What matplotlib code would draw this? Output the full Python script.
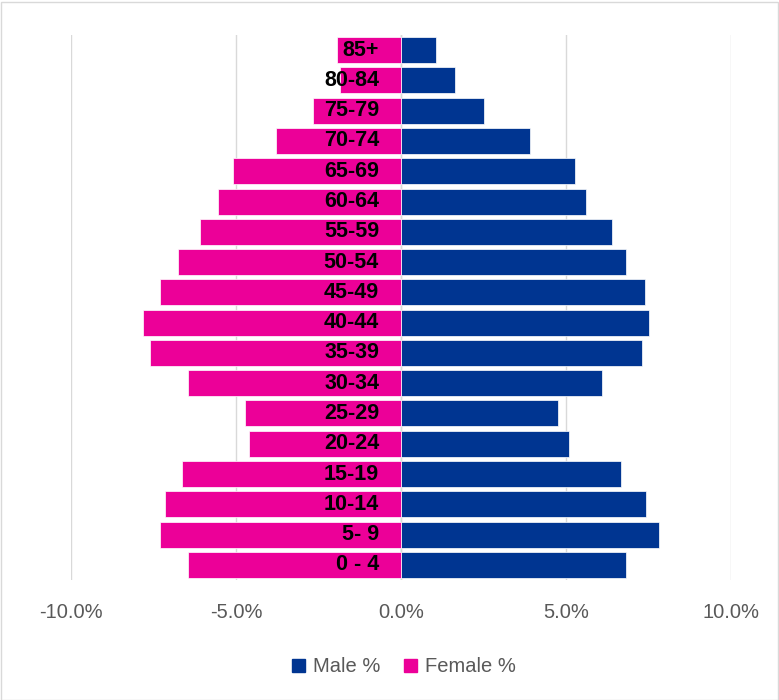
import matplotlib
matplotlib.use("Agg")
import matplotlib.pyplot as plt
from matplotlib.patches import Patch, Rectangle

age_groups = ["0 - 4", "5- 9", "10-14", "15-19", "20-24", "25-29", "30-34", "35-39",
              "40-44", "45-49", "50-54", "55-59", "60-64", "65-69", "70-74", "75-79",
              "80-84", "85+"]
male_pct = [6.82, 7.82, 7.42, 6.67, 5.09, 4.76, 6.09, 7.30, 7.52, 7.39, 6.82, 6.39,
            5.61, 5.27, 3.91, 2.52, 1.64, 1.06]
female_pct = [6.46, 7.30, 7.16, 6.63, 4.61, 4.73, 6.44, 7.61, 7.81, 7.30, 6.76, 6.09,
              5.55, 5.09, 3.79, 2.67, 1.85, 1.94]
x_ticks = [-10, -5, 0, 5, 10]
x_tick_labels = ["-10.0%", "-5.0%", "0.0%", "5.0%", "10.0%"]

male_color = "#003591"
female_color = "#EC0098"

fig = plt.figure(figsize=(7.79, 7.00), dpi=100)
ax = fig.add_axes([71/779, 1 - 580/700, 660/779, 545/700])

y = list(range(len(age_groups)))
ax.barh(y, male_pct, height=0.86, color=male_color, edgecolor="white", linewidth=0.5, zorder=3)
ax.barh(y, [-v for v in female_pct], height=0.86, color=female_color, edgecolor="white", linewidth=0.5, zorder=3)

ax.set_xlim(-10, 10)
ax.set_ylim(-0.5, len(age_groups) - 0.5)
ax.set_xticks(x_ticks)
ax.set_xticklabels(x_tick_labels, fontsize=14.5, color="#595959", fontfamily="Liberation Sans")
ax.tick_params(axis="x", length=0, pad=16.5)
ax.set_yticks([])
for s in ax.spines.values():
    s.set_visible(False)
ax.grid(axis="x", color="#D9D9D9", linewidth=1, zorder=0)
ax.axvline(0, color="#D9D9D9", linewidth=1, zorder=1)

for yi, lab in zip(y, age_groups):
    ax.annotate(lab, xy=(0, yi), xytext=(-15.8, 0), textcoords="offset points",
                ha="right", va="center", fontsize=15.5, fontweight="bold",
                color="black", zorder=5, fontfamily="Liberation Sans")

handles = [Patch(color=male_color, label="Male %"), Patch(color=female_color, label="Female %")]
fig.legend(handles=handles, loc="center", bbox_to_anchor=(404/779, 1 - 667/700), ncol=2,
           frameon=False, handlelength=0.65, handleheight=0.65,
           handletextpad=0.4, columnspacing=1.2,
           prop={"family": "Liberation Sans", "size": 14.5})
for t in fig.legends[0].get_texts():
    t.set_color("#595959")

fig.patches.append(Rectangle((0.5/779, 0.5/700), 777/779, 698/700, transform=fig.transFigure,
                             fill=False, edgecolor="#D9D9D9", linewidth=1))

fig.savefig("out.png", dpi=100)
